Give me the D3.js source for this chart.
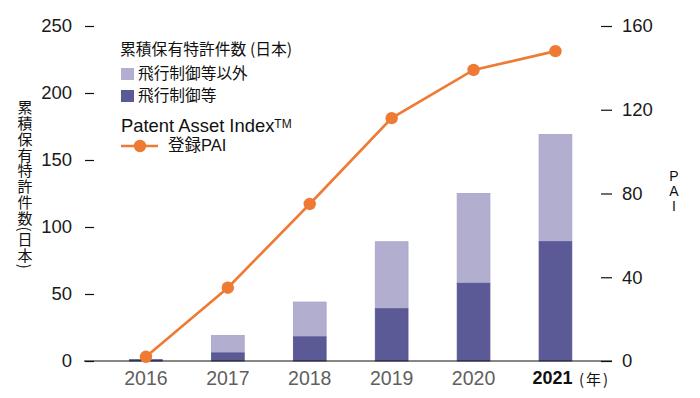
<!DOCTYPE html>
<html>
<head>
<meta charset="utf-8">
<script src="https://cdn.jsdelivr.net/npm/d3@7"></script>
<style>
  body { margin: 0; background: #fff; }
  text { font-family: "Liberation Sans", "Noto Sans CJK JP", sans-serif; }
  .jp { font-family: "Noto Sans CJK JP", sans-serif; }
</style>
</head>
<body>
<div id="chart"></div>
<script>
// data
var years = ["2016", "2017", "2018", "2019", "2020", "2021"]
var flightControl = [1, 6, 18, 39, 58, 89]       // 飛行制御等
var otherPatents = [0, 13, 26, 50, 67, 80]       // 飛行制御等以外
var pai = [2, 35, 75, 116, 139, 148]             // 登録PAI
var leftTicks = [0, 50, 100, 150, 200, 250]
var rightTicks = [0, 40, 80, 120, 160]

var width = 700
var height = 398
var darkColor = '#5c5a96'
var lightColor = '#b1aecf'
var orange = '#ee7a33'

var svg = d3.select("#chart")
	.append("svg")
	.attr("width", width)
	.attr("height", height)

var x = d3.scaleBand().domain(years).range([105, 596.4]).paddingInner(0.6).paddingOuter(0.3)
var y = d3.scaleLinear().domain([0, 250]).range([361, 26])
var y2 = d3.scaleLinear().domain([0, 160]).range([361, 26])

var rows = years.map(function (d, i) {
	return { year: d, dark: flightControl[i], light: otherPatents[i], pai: pai[i] }
})

// bars (stacked)
var g = svg.append("g")
g.selectAll(".light")
	.data(rows)
	.enter().append("rect")
	.attr("class", "light")
	.attr("x", function (d) { return x(d.year) })
	.attr("width", x.bandwidth())
	.attr("y", function (d) { return y(d.dark + d.light) })
	.attr("height", function (d) { return y(d.dark) - y(d.dark + d.light) })
	.style("fill", lightColor)
	.style("stroke", "#a6a3c8")
	.style("stroke-width", 0.8)

g.selectAll(".dark")
	.data(rows)
	.enter().append("rect")
	.attr("class", "dark")
	.attr("x", function (d) { return x(d.year) })
	.attr("width", x.bandwidth())
	.attr("y", function (d) { return y(d.dark) })
	.attr("height", function (d) { return y(0) - y(d.dark) })
	.style("fill", darkColor)
	.style("stroke", "#545290")
	.style("stroke-width", 0.8)

// baseline
svg.append("line")
	.attr("x1", 84).attr("x2", 612)
	.attr("y1", y(0)).attr("y2", y(0))
	.style("stroke", "#111")
	.style("stroke-width", 1.2)

// left axis
var la = svg.append("g")
	.attr("transform", "translate(94,0)")
	.call(d3.axisLeft(y).tickValues(leftTicks).tickSize(9).tickPadding(13))
la.select(".domain").remove()
la.selectAll("line").style("stroke", "#111").style("stroke-width", 1.2)
la.selectAll("text").style("font-size", "18.5px").style("fill", "#1a1a1a").style("font-family", "Liberation Sans")

// right axis
var ra = svg.append("g")
	.attr("transform", "translate(601,0)")
	.call(d3.axisRight(y2).tickValues(rightTicks).tickSize(11).tickPadding(10))
ra.select(".domain").remove()
ra.selectAll("line").style("stroke", "#111").style("stroke-width", 1.2)
ra.selectAll("text").style("font-size", "18.5px").style("fill", "#1a1a1a").style("font-family", "Liberation Sans")

// x axis
var xa = svg.append("g")
	.attr("transform", "translate(0," + y(0) + ")")
	.call(d3.axisBottom(x).tickSize(0).tickPadding(10))
xa.select(".domain").remove()
xa.selectAll("text")
	.style("font-size", "19.5px")
	.style("fill", "#5f5f5f")
	.style("font-family", "Liberation Sans")
xa.selectAll(".tick").filter(function (d) { return d == "2021" }).select("text")
	.style("font-weight", "bold")
	.style("font-size", "18px")
	.style("fill", "#111")
	.attr("dx", -3)

svg.append("text")
	.attr("class", "jp")
	.attr("x", 579)
	.attr("y", 385)
	.style("font-size", "15px")
	.style("letter-spacing", "2px")
	.style("fill", "#111")
	.text("(年)")

// PAI line
var line = d3.line()
	.x(function (d) { return x(d.year) + x.bandwidth() / 2 })
	.y(function (d) { return y2(d.pai) })

svg.append("path")
	.datum(rows)
	.attr("d", line)
	.style("fill", "none")
	.style("stroke", orange)
	.style("stroke-width", 2.6)

svg.selectAll(".pt")
	.data(rows)
	.enter().append("circle")
	.attr("class", "pt")
	.attr("cx", function (d) { return x(d.year) + x.bandwidth() / 2 })
	.attr("cy", function (d) { return y2(d.pai) })
	.attr("r", 6.2)
	.style("fill", orange)

// axis titles (vertical)
svg.append("text")
	.attr("class", "jp")
	.attr("x", 25)
	.attr("y", 100)
	.style("writing-mode", "vertical-rl")
	.style("font-size", "15px")
	.style("letter-spacing", "0.8px")
	.style("fill", "#111")
	.text("累積保有特許件数(日本)")

svg.append("text")
	.attr("x", 674)
	.attr("y", 168)
	.style("writing-mode", "vertical-rl")
	.style("text-orientation", "upright")
	.style("letter-spacing", "-1px")
	.style("font-size", "14px")
	.style("fill", "#111")
	.text("PAI")

// legend
var lg = svg.append("g")
lg.append("text")
	.attr("class", "jp")
	.attr("x", 120)
	.attr("y", 55)
	.style("font-size", "15.8px")
	.style("fill", "#111")
	.text("累積保有特許件数 (日本)")

var legendItems = [
	{ label: "飛行制御等以外", color: lightColor, y: 68 },
	{ label: "飛行制御等", color: darkColor, y: 90 }
]
legendItems.forEach(function (d) {
	lg.append("rect")
		.attr("x", 121).attr("y", d.y)
		.attr("width", 13).attr("height", 12)
		.style("fill", d.color)
	lg.append("text")
		.attr("class", "jp")
		.attr("x", 138)
		.attr("y", d.y + 11)
		.style("font-size", "15.7px")
		.style("fill", "#111")
		.text(d.label)
})

var pt = lg.append("text")
	.attr("x", 121)
	.attr("y", 132)
	.style("font-size", "18.4px")
	.style("fill", "#111")
	.text("Patent Asset Index")
pt.append("tspan")
	.attr("dy", -4)
	.style("font-size", "12px")
	.text("TM")

lg.append("line")
	.attr("x1", 121).attr("x2", 158)
	.attr("y1", 146).attr("y2", 146)
	.style("stroke", orange)
	.style("stroke-width", 2.6)
lg.append("circle")
	.attr("cx", 140).attr("cy", 146).attr("r", 6.2)
	.style("fill", orange)
lg.append("text")
	.attr("x", 168)
	.attr("y", 151)
	.style("font-size", "16.5px")
	.style("fill", "#111")
	.text("登録PAI")
</script>
</body>
</html>
